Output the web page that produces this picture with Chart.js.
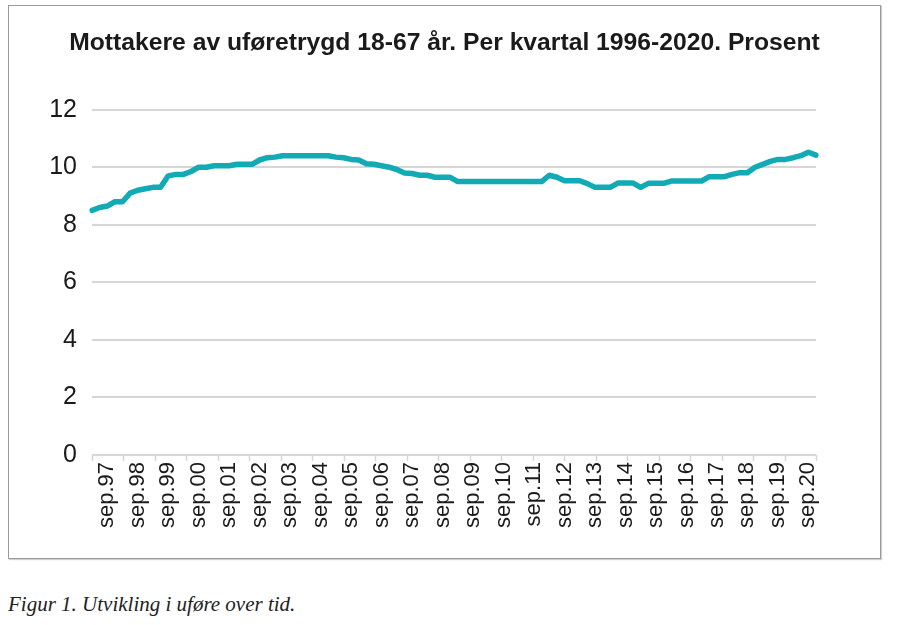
<!DOCTYPE html>
<html>
<head>
<meta charset="utf-8">
<script src="https://cdn.jsdelivr.net/npm/chart.js@4"></script>
<style>
  html, body { margin: 0; padding: 0; background: #fff; }
  #frame {
    position: absolute; left: 8px; top: 5px; width: 871px; height: 552px;
    border: 1px solid #9a9a9a; box-shadow: 1px 1px 1px #d0d0d0; background: #fff;
  }
  #frame canvas { display: block; }
  #caption {
    position: absolute; left: 8px; top: 592px;
    font-family: "Liberation Serif", serif; font-style: italic; font-size: 21px; color: #222;
  }
</style>
</head>
<body>
<div id="frame"><canvas id="c" width="871" height="552"></canvas></div>
<div id="caption">Figur 1. Utvikling i uføre over tid.</div>
<script>
// ---- data ----
const chartTitle = 'Mottakere av uføretrygd 18-67 år. Per kvartal 1996-2020. Prosent';
const years = ['97','98','99','00','01','02','03','04','05','06','07','08',
               '09','10','11','12','13','14','15','16','17','18','19','20'];
const quarterMonths = ['mar','jun','sep','des'];
const labelMonth = 'sep';
const yTicks = [0, 2, 4, 6, 8, 10, 12];
const values = [
  8.5, 8.6, 8.65, 8.8, 8.8, 9.1, 9.2, 9.25, 9.3, 9.3, 9.7, 9.75, 9.75, 9.85, 10.0, 10.0,
  10.05, 10.05, 10.05, 10.1, 10.1, 10.1, 10.25, 10.33, 10.35, 10.4,
  10.4, 10.4, 10.4, 10.4, 10.4, 10.4,
  10.35, 10.33, 10.27, 10.25, 10.12, 10.1, 10.05, 10.0, 9.92, 9.8, 9.78, 9.72, 9.72, 9.65, 9.65, 9.65, 9.5,
  9.5, 9.5, 9.5, 9.5, 9.5, 9.5, 9.5, 9.5, 9.5, 9.5, 9.5,
  9.72, 9.65, 9.53, 9.53, 9.53, 9.43, 9.3, 9.3, 9.3, 9.45, 9.45, 9.45, 9.3, 9.44, 9.44, 9.44,
  9.52, 9.52, 9.52, 9.52, 9.52, 9.67, 9.67, 9.67, 9.75, 9.81, 9.81, 10.0, 10.1, 10.2, 10.27, 10.27,
  10.33, 10.4, 10.52, 10.42
];

const categories = [];
years.forEach(y => quarterMonths.forEach(m => categories.push(m + '.' + y)));

const lineColor = '#12aab5';
const gridColor = '#d6d6d6';
const textColor = '#1a1a1a';
const fontFamily = '"Liberation Sans", Arial, Helvetica, sans-serif';

// short tick marks under the category axis, one per year span
const yearTicks = {
  id: 'yearTicks',
  afterDraw(chart) {
    const xs = chart.scales.x, ys = chart.scales.y;
    const ctx = chart.ctx;
    const p0 = xs.getPixelForValue(0), p1 = xs.getPixelForValue(values.length - 1);
    const n = years.length - 1;
    const yb = ys.getPixelForValue(0);
    ctx.save();
    ctx.strokeStyle = gridColor;
    ctx.lineWidth = 1.5;
    ctx.beginPath();
    for (let i = 0; i <= n; i++) {
      const x = Math.round(p0 + (p1 - p0) * i / n) + 0.5;
      ctx.moveTo(x, yb);
      ctx.lineTo(x, yb + 6);
    }
    ctx.stroke();
    ctx.restore();
  }
};

new Chart(document.getElementById('c'), {
  type: 'line',
  data: {
    labels: categories.slice(0, values.length),
    datasets: [{
      data: values,
      borderColor: lineColor,
      borderWidth: 5.5,
      pointRadius: 0,
      tension: 0,
      fill: false,
      borderJoinStyle: 'round',
      borderCapStyle: 'round'
    }]
  },
  options: {
    responsive: false,
    animation: false,
    layout: { padding: 0 },
    plugins: {
      legend: { display: false },
      tooltip: { enabled: false },
      title: {
        display: true,
        text: chartTitle,
        color: textColor,
        font: { family: fontFamily, size: 24.7, weight: 'bold' },
        padding: { top: 22, bottom: 52 }
      }
    },
    scales: {
      x: {
        type: 'category',
        offset: false,
        grid: { display: false, drawTicks: false },
        border: { display: false },
        afterFit(s) { s.height = 103; },
        ticks: {
          autoSkip: false,
          maxRotation: 90,
          minRotation: 90,
          padding: 7,
          color: textColor,
          font: { family: fontFamily, size: 22 },
          callback(v, i) {
            const lab = this.getLabelForValue(v);
            return lab.startsWith(labelMonth) ? lab : '';
          }
        }
      },
      y: {
        min: yTicks[0],
        max: yTicks[yTicks.length - 1],
        afterBuildTicks(s) { s.ticks = yTicks.map(v => ({ value: v })); },
        afterFit(s) { s.width = 83; },
        grid: { color: gridColor, lineWidth: 2, drawTicks: false },
        border: { display: false },
        ticks: {
          padding: 15,
          color: textColor,
          font: { family: fontFamily, size: 25 }
        }
      },
      yRight: {
        position: 'right',
        min: yTicks[0],
        max: yTicks[yTicks.length - 1],
        afterFit(s) { s.width = 64; },
        grid: { display: false, drawTicks: false },
        border: { display: false },
        ticks: { display: false }
      }
    }
  },
  plugins: [yearTicks]
});
</script>
</body>
</html>
